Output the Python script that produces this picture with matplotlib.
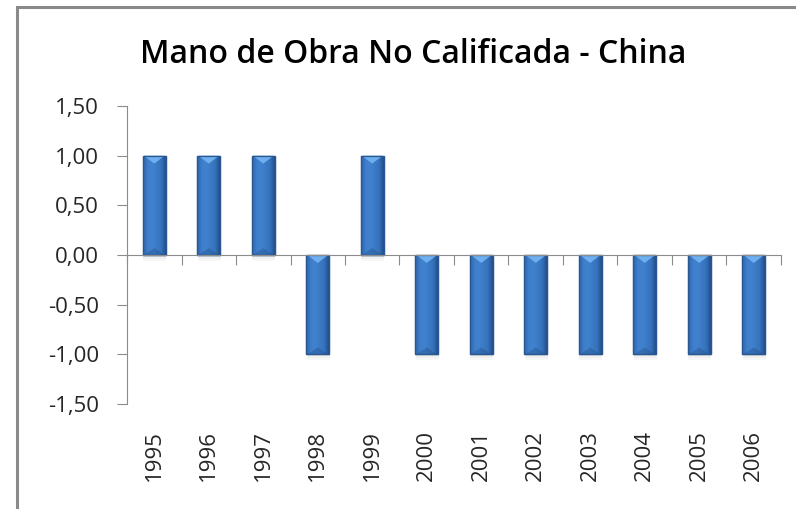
import numpy as np
import matplotlib
matplotlib.use("Agg")
import matplotlib.pyplot as plt
import matplotlib.transforms as mtransforms
from matplotlib.patches import Rectangle, Polygon
from matplotlib.colors import LinearSegmentedColormap

# data
years = ["1995", "1996", "1997", "1998", "1999", "2000",
         "2001", "2002", "2003", "2004", "2005", "2006"]
values = [1, 1, 1, -1, 1, -1, -1, -1, -1, -1, -1, -1]
yticks = [-1.5, -1.0, -0.5, 0.0, 0.5, 1.0, 1.5]
title = "Mano de Obra No Calificada - China"

plt.rcParams['font.family'] = ['Open Sans', 'DejaVu Sans']

fig = plt.figure(figsize=(7.96, 5.09), dpi=100)
W, H = 796, 509

# outer chart border (only top and left are visible in the crop)
fig.patches.append(Rectangle((17 / W, -0.1), 1.2, 1 - 7 / H + 0.1,
                             transform=fig.transFigure, fill=False,
                             edgecolor='#8a8a8a', lw=2.2))

ax = fig.add_axes([127 / W, 1 - 404 / H, (781 - 127) / W, (404 - 106) / H])

x = np.arange(len(years))
bars = ax.bar(x, values, width=0.42, color='#3c7ac5',
              edgecolor='#2b5790', lw=0.9, zorder=3)

# cylinder-ish gradient across each bar
grad_cmap = LinearSegmentedColormap.from_list(
    'barg', ['#2f63a6', '#3e7ecb', '#4182ce', '#3c7ac5', '#3572bd', '#234f88'])
grad = np.linspace(0, 1, 64).reshape(1, -1)
for b in bars:
    x0, w = b.get_x(), b.get_width()
    y0, h = b.get_y(), b.get_height()
    im = ax.imshow(grad, cmap=grad_cmap, aspect='auto',
                   extent=(x0, x0 + w, y0, y0 + h), zorder=3.5,
                   interpolation='bicubic')
    im.set_clip_path(b)
    top = max(y0, y0 + h)
    bot = min(y0, y0 + h)
    # light bevel triangle at top
    ax.add_patch(Polygon([(x0 + 0.02, top), (x0 + w - 0.02, top),
                          (x0 + w / 2, top - 0.08)], closed=True,
                         facecolor='#6eaff0', edgecolor='none', zorder=4))
    # darker bevel at bottom
    ax.add_patch(Polygon([(x0 + 0.02, bot), (x0 + w - 0.02, bot),
                          (x0 + w / 2, bot + 0.07)], closed=True,
                         facecolor='#1f4a80', edgecolor='none',
                         alpha=0.35, zorder=4))
    # soft shadow
    for k, a in enumerate([0.10, 0.06, 0.03]):
        ax.add_patch(Rectangle((x0 + 0.01, bot - 0.02 * (k + 1)), w, 0.02,
                               facecolor='#000000', edgecolor='none',
                               alpha=a, zorder=2))
    ax.add_patch(Rectangle((x0, bot), w, top - bot, fill=False,
                           edgecolor='#2b5790', lw=0.9, zorder=4.5))

ax.set_xlim(-0.5, len(years) - 0.5)
ax.set_ylim(-1.5, 1.5)
ax.set_yticks(yticks)
ax.set_yticklabels([f"{v:.2f}".replace('.', ',') for v in yticks])

for s in ['top', 'right']:
    ax.spines[s].set_visible(False)
ax.spines['left'].set_color('#8c8c8c')
ax.spines['bottom'].set_position(('data', 0))
ax.spines['bottom'].set_color('#8c8c8c')
ax.spines['bottom'].set_zorder(5)

ax.set_xticks(np.arange(len(years) + 1) - 0.5)
ax.set_xticklabels([])
ax.tick_params(axis='x', direction='out', length=7, color='#8c8c8c')
ax.tick_params(axis='y', direction='out', length=7, color='#8c8c8c',
               labelsize=16, labelcolor='#262626', pad=13)

trans = mtransforms.blended_transform_factory(ax.transData, ax.transAxes)
for xi, yr in zip(x, years):
    ax.text(xi, -0.087, yr, transform=trans, rotation=90, ha='center',
            va='top', fontsize=16, color='#262626')

fig.text(413.5 / W, 1 - 63 / H, title, ha='center', va='baseline',
         fontsize=23, fontweight='semibold', color='#000000')

fig.savefig('out.png', dpi=100)
